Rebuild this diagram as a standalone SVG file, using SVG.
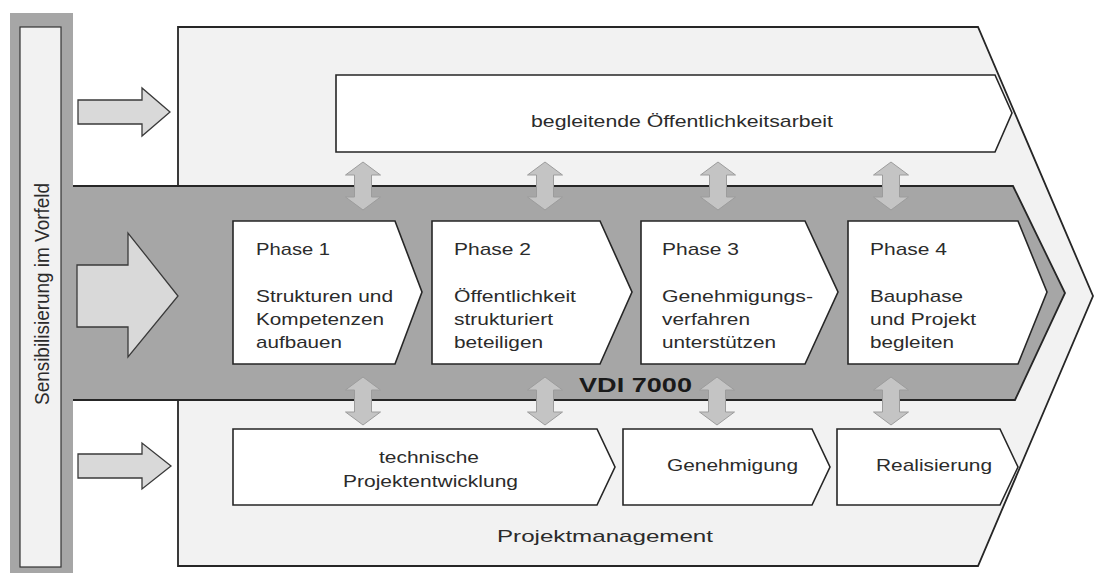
<svg xmlns="http://www.w3.org/2000/svg" width="1094" height="573" viewBox="0 0 1094 573">
<style>
.box{fill:#ffffff;stroke:#262626;stroke-width:1.6;stroke-linejoin:miter}
.t{font-family:"Liberation Sans",Arial,sans-serif;font-size:17px;fill:#2b2b2b}
.blk{fill:#d9d9d9;stroke:#3a3a3a;stroke-width:1.3}
.dbl{fill:#c4c4c4;stroke:#9c9c9c;stroke-width:1}
</style>
<defs>
<path id="da" d="M0,0 L17.5,13 L8.5,13 L8.5,35 L17.5,35 L0,48 L-17.5,35 L-8.5,35 L-8.5,13 L-17.5,13 Z"/>
</defs>
<rect width="1094" height="573" fill="#ffffff"/>
<g id="projektmanagement">
<path d="M178,27 L978,27 L1093,296 L978,566 L178,566 Z" fill="#f2f2f2" stroke="#262626" stroke-width="1.8"/>
<text class="t" x="497" y="542" font-size="19" textLength="216" lengthAdjust="spacingAndGlyphs">Projektmanagement</text>
</g>
<g id="vdi7000">
<path d="M73,186 L1013,186 L1065,293 L1015,400 L73,400" fill="#a6a6a6" stroke="#262626" stroke-width="1.8"/>
<text x="579" y="392" font-family="'Liberation Sans',Arial,sans-serif" font-size="21" font-weight="bold" fill="#1a1a1a" textLength="113" lengthAdjust="spacingAndGlyphs">VDI 7000</text>
</g>
<g id="vorfeld">
<rect x="10" y="13" width="63" height="560" fill="#a6a6a6"/>
<rect x="20" y="27" width="41" height="540" fill="#f2f2f2" stroke="#333333" stroke-width="1.2"/>
<text class="t" font-size="19" text-anchor="middle" textLength="222" lengthAdjust="spacingAndGlyphs" transform="translate(49,294) scale(1.2,1) rotate(-90)">Sensibilisierung im Vorfeld</text>
</g>
<g id="oeffentlichkeitsarbeit">
<path class="box" d="M336,75 L995,75 L1012,113 L995,152 L336,152 Z"/>
<text class="t" x="531" y="127" textLength="302" lengthAdjust="spacingAndGlyphs">begleitende Öffentlichkeitsarbeit</text>
</g>
<g id="phase1">
<path class="box" d="M233,221 L395,221 L422,292 L395,364 L233,364 Z"/>
<text class="t" x="256" y="255" textLength="74" lengthAdjust="spacingAndGlyphs">Phase 1</text>
<text class="t" x="256" y="302" textLength="137" lengthAdjust="spacingAndGlyphs">Strukturen und</text>
<text class="t" x="256" y="325" textLength="128" lengthAdjust="spacingAndGlyphs">Kompetenzen</text>
<text class="t" x="256" y="348" textLength="86" lengthAdjust="spacingAndGlyphs">aufbauen</text>
</g>
<g id="phase2">
<path class="box" d="M432,221 L600,221 L632,292 L600,364 L432,364 Z"/>
<text class="t" x="454" y="255" textLength="77" lengthAdjust="spacingAndGlyphs">Phase 2</text>
<text class="t" x="454" y="302" textLength="122" lengthAdjust="spacingAndGlyphs">Öffentlichkeit</text>
<text class="t" x="454" y="325" textLength="99" lengthAdjust="spacingAndGlyphs">strukturiert</text>
<text class="t" x="454" y="348" textLength="89" lengthAdjust="spacingAndGlyphs">beteiligen</text>
</g>
<g id="phase3">
<path class="box" d="M641,221 L805,221 L838,292 L805,364 L641,364 Z"/>
<text class="t" x="662" y="255" textLength="77" lengthAdjust="spacingAndGlyphs">Phase 3</text>
<text class="t" x="662" y="302" textLength="151" lengthAdjust="spacingAndGlyphs">Genehmigungs-</text>
<text class="t" x="662" y="325" textLength="88" lengthAdjust="spacingAndGlyphs">verfahren</text>
<text class="t" x="662" y="348" textLength="114" lengthAdjust="spacingAndGlyphs">unterstützen</text>
</g>
<g id="phase4">
<path class="box" d="M848,221 L1018,221 L1047,292 L1018,364 L848,364 Z"/>
<text class="t" x="870" y="255" textLength="77" lengthAdjust="spacingAndGlyphs">Phase 4</text>
<text class="t" x="870" y="302" textLength="93" lengthAdjust="spacingAndGlyphs">Bauphase</text>
<text class="t" x="870" y="325" textLength="106" lengthAdjust="spacingAndGlyphs">und Projekt</text>
<text class="t" x="870" y="348" textLength="84" lengthAdjust="spacingAndGlyphs">begleiten</text>
</g>
<g id="technische-projektentwicklung">
<path class="box" d="M233,429 L597,429 L615,467 L597,505 L233,505 Z"/>
<text class="t" x="379" y="463" textLength="100" lengthAdjust="spacingAndGlyphs">technische</text>
<text class="t" x="343" y="487" textLength="175" lengthAdjust="spacingAndGlyphs">Projektentwicklung</text>
</g>
<g id="genehmigung">
<path class="box" d="M623,429 L812,429 L830,467 L812,505 L623,505 Z"/>
<text class="t" x="667" y="471" textLength="131" lengthAdjust="spacingAndGlyphs">Genehmigung</text>
</g>
<g id="realisierung">
<path class="box" d="M837,429 L1000,429 L1018,467 L1000,505 L837,505 Z"/>
<text class="t" x="876" y="471" textLength="116" lengthAdjust="spacingAndGlyphs">Realisierung</text>
</g>
<g id="connectors">
<path class="blk" d="M78,100 L142,100 L142,88 L170,112 L142,136 L142,124 L78,124 Z"/>
<path class="blk" d="M77,265 L128,265 L128,233 L178,296 L128,357 L128,327 L77,327 Z"/>
<path class="blk" d="M78,454 L142,454 L142,443 L171,466 L142,489 L142,478 L78,478 Z"/>
<use href="#da" class="dbl" x="363" y="162"/>
<use href="#da" class="dbl" x="545" y="162"/>
<use href="#da" class="dbl" x="718" y="162"/>
<use href="#da" class="dbl" x="891" y="162"/>
<use href="#da" class="dbl" x="363" y="377"/>
<use href="#da" class="dbl" x="545" y="377"/>
<use href="#da" class="dbl" x="717" y="377"/>
<use href="#da" class="dbl" x="891" y="377"/>
</g>
</svg>
